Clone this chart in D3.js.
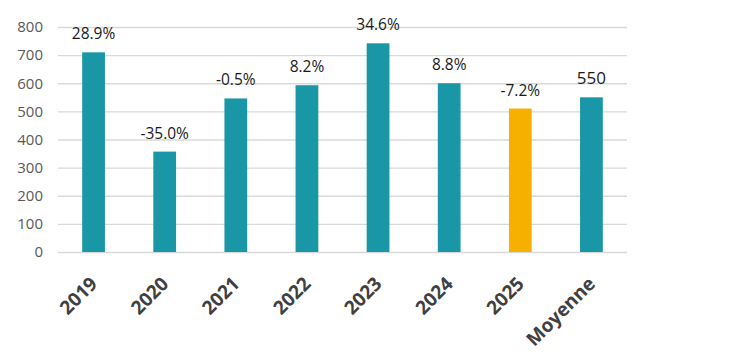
<!DOCTYPE html>
<meta charset="utf-8">
<script src="https://d3js.org/d3.v7.min.js"></script>
<style>
    body { margin: 0; background: #fff; }
</style>
<body>
<div id="my_dataviz"></div>
<script>
    // data
    var categories = ["2019", "2020", "2021", "2022", "2023", "2024", "2025", "Moyenne"];
    var values = [710, 357, 546, 593, 742, 600, 510, 550];
    var labels = ["28.9%", "-35.0%", "-0.5%", "8.2%", "34.6%", "8.8%", "-7.2%", "550"];
    var yTicks = [0, 100, 200, 300, 400, 500, 600, 700, 800];

    var W = 747, H = 359;
    var margin = { top: 27, right: 120, bottom: 107, left: 58 },
        width = W - margin.left - margin.right,
        height = H - margin.top - margin.bottom;

    var svg = d3.select("#my_dataviz")
        .append("svg")
        .attr("width", W)
        .attr("height", H)
        .append("g")
        .attr("transform", "translate(" + margin.left + "," + margin.top + ")");

    var x = d3.scaleBand()
        .domain(categories)
        .range([0, width])
        .paddingInner(0.68)
        .paddingOuter(0.34);

    var y = d3.scaleLinear()
        .domain([0, 800])
        .range([height, 0]);

    // grid lines
    svg.append("g")
        .selectAll("line")
        .data(yTicks)
        .enter().append("line")
        .attr("x1", 0)
        .attr("x2", width)
        .attr("y1", function(d) { return y(d) + 0.5; })
        .attr("y2", function(d) { return y(d) + 0.5; })
        .attr("stroke", "#d9d9d9")
        .attr("stroke-width", 1.3);

    // y axis labels
    var yAxis = svg.append("g")
        .attr("transform", "translate(-15,0)")
        .call(d3.axisLeft(y).tickValues(yTicks).tickSize(0).tickPadding(0));
    yAxis.select(".domain").remove();
    yAxis.selectAll("text")
        .attr("font-family", "Open Sans")
        .attr("font-size", "15px")
        .attr("fill", "#595959");

    // bars
    svg.selectAll("rect.bar")
        .data(values)
        .enter().append("rect")
        .attr("class", "bar")
        .attr("x", function(d, i) { return x(categories[i]); })
        .attr("width", x.bandwidth())
        .attr("y", function(d) { return y(d); })
        .attr("height", function(d) { return height - y(d); })
        .attr("fill", function(d, i) { return categories[i] === "2025" ? "#f5b000" : "#1a97a7"; });

    // value labels
    svg.selectAll("text.lbl")
        .data(values)
        .enter().append("text")
        .attr("class", "lbl")
        .attr("x", function(d, i) { return x(categories[i]) + x.bandwidth() / 2; })
        .attr("y", function(d) { return y(d) - 13; })
        .attr("text-anchor", "middle")
        .attr("font-family", "Open Sans")
        .attr("font-size", function(d, i) { return i === 7 ? "17px" : "15.5px"; })
        .attr("fill", "#1a1a1a")
        .text(function(d, i) { return labels[i]; });

    // x axis labels, rotated
    var xAxis = svg.append("g")
        .attr("transform", "translate(0," + height + ")")
        .call(d3.axisBottom(x).tickSize(0).tickPadding(0));
    xAxis.select(".domain").remove();
    xAxis.selectAll("text")
        .attr("font-family", "Open Sans")
        .attr("font-weight", "bold")
        .attr("font-size", "19px")
        .attr("fill", "#404040")
        .attr("text-anchor", "end")
        .attr("dy", null)
        .attr("transform", "translate(5,33) rotate(-45)");
</script>
</body>
